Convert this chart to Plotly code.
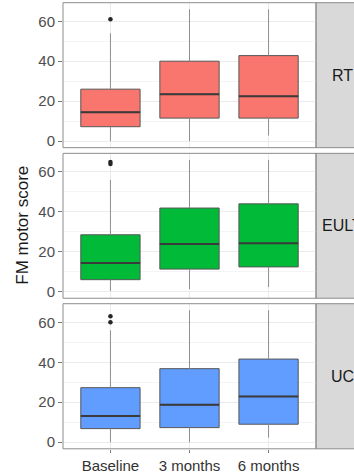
import plotly.graph_objects as go

# Fugl-Meyer motor scores by group and time point (box statistics)
groups = ["RT", "EULT", "UC"]
timepoints = ["Baseline", "3 months", "6 months"]
group_colors = ["#F8766D", "#00BA38", "#619CFF"]

rt_lower = [0, 0, 2.8]
rt_q1 = [7.2, 11.5, 11.5]
rt_median = [14.5, 23.5, 22.4]
rt_q3 = [26, 40, 42.8]
rt_upper = [54, 66, 66]
rt_outliers = [61]

eult_lower = [0.3, 1.3, 2.3]
eult_q1 = [6, 11.3, 12.4]
eult_median = [14.4, 23.9, 24.2]
eult_q3 = [28.5, 41.9, 44]
eult_upper = [56, 66, 66]
eult_outliers = [64, 65]

uc_lower = [0, 0, 2.3]
uc_q1 = [6.8, 7.3, 9]
uc_median = [13.1, 18.7, 22.9]
uc_q3 = [27.3, 36.8, 41.6]
uc_upper = [56, 66, 66]
uc_outliers = [60, 63]

stats = [
    (rt_lower, rt_q1, rt_median, rt_q3, rt_upper, rt_outliers),
    (eult_lower, eult_q1, eult_median, eult_q3, eult_upper, eult_outliers),
    (uc_lower, uc_q1, uc_median, uc_q3, uc_upper, uc_outliers),
]

W, H = 354, 476
x_pos = [1, 2, 3]
box_w = 0.75
# panel pixel extents (top, bottom) and plot area horizontal extent
panel_px = [(2.7, 148.3), (154, 299.5), (305, 450.7)]
px_left, px_right = 63, 316
strip_text_center = 342

fig = go.Figure()

for i, (lo, q1, med, q3, hi, outl) in enumerate(stats):
    xa = "x" if i == 0 else f"x{i+1}"
    ya = "y" if i == 0 else f"y{i+1}"
    # whiskers
    wx, wy = [], []
    for k, xp in enumerate(x_pos):
        wx += [xp, xp, None, xp, xp, None]
        wy += [lo[k], q1[k], None, q3[k], hi[k], None]
    fig.add_trace(go.Scatter(x=wx, y=wy, mode="lines", xaxis=xa, yaxis=ya,
                             line=dict(color="#8f8f8f", width=1),
                             hoverinfo="skip", showlegend=False))
    # boxes
    fig.add_trace(go.Box(x=x_pos, q1=q1, median=med, q3=q3,
                         lowerfence=q1, upperfence=q3,
                         width=box_w, whiskerwidth=0,
                         fillcolor=group_colors[i],
                         line=dict(color="#575757", width=1),
                         xaxis=xa, yaxis=ya, showlegend=False,
                         boxpoints=False))
    # thicker median bars
    mx, my = [], []
    for k, xp in enumerate(x_pos):
        mx += [xp - box_w / 2, xp + box_w / 2, None]
        my += [med[k], med[k], None]
    fig.add_trace(go.Scatter(x=mx, y=my, mode="lines", xaxis=xa, yaxis=ya,
                             line=dict(color="#3a3a3a", width=2),
                             hoverinfo="skip", showlegend=False))
    # outliers (baseline)
    fig.add_trace(go.Scatter(x=[x_pos[0]] * len(outl), y=outl, mode="markers",
                             xaxis=xa, yaxis=ya,
                             marker=dict(color="#262626", size=4.5),
                             hoverinfo="skip", showlegend=False))

layout = dict(
    width=W, height=H,
    margin=dict(l=0, r=0, t=0, b=0),
    paper_bgcolor="white", plot_bgcolor="white",
    showlegend=False,
    font=dict(family="Liberation Sans, Arial, sans-serif", color="#4d4d4d"),
)

shapes = []
annotations = []
for i, (top, bot) in enumerate(panel_px):
    dom = [1 - bot / H, 1 - top / H]
    xkey = "xaxis" if i == 0 else f"xaxis{i+1}"
    ykey = "yaxis" if i == 0 else f"yaxis{i+1}"
    anchor_y = "y" if i == 0 else f"y{i+1}"
    anchor_x = "x" if i == 0 else f"x{i+1}"
    last = i == len(panel_px) - 1
    layout[xkey] = dict(
        domain=[px_left / W, px_right / W], anchor=anchor_y,
        range=[0.4, 3.6], tickvals=x_pos, ticktext=timepoints,
        showticklabels=last, ticks="outside" if last else "",
        ticklen=3, tickcolor="#7a7a7a",
        tickfont=dict(size=15, color="#333333"),
        showgrid=True, gridcolor="#ebebeb", gridwidth=1,
        zeroline=False, showline=False, fixedrange=True,
    )
    layout[ykey] = dict(
        domain=dom, anchor=anchor_x,
        range=[-3.3, 69.3], tickvals=[0, 20, 40, 60],
        ticks="outside", ticklen=4, tickcolor="#7a7a7a",
        tickfont=dict(size=15, color="#4d4d4d"),
        showgrid=True, gridcolor="#ebebeb", gridwidth=1,
        minor=dict(tickvals=[10, 30, 50], showgrid=True,
                   gridcolor="#f4f4f4", gridwidth=1),
        zeroline=False, showline=False, fixedrange=True,
    )
    # panel border
    shapes.append(dict(type="rect", xref="paper", yref="paper",
                       x0=px_left / W, x1=px_right / W, y0=dom[0], y1=dom[1],
                       line=dict(color="#8c8c8c", width=1), layer="above"))
    # facet strip on the right
    shapes.append(dict(type="rect", xref="paper", yref="paper",
                       x0=px_right / W, x1=1.3, y0=dom[0], y1=dom[1],
                       fillcolor="#d9d9d9",
                       line=dict(color="#8c8c8c", width=1), layer="below"))
    annotations.append(dict(text=groups[i], xref="paper", yref="paper",
                            x=strip_text_center / W, y=(dom[0] + dom[1]) / 2,
                            xanchor="center", yanchor="middle", showarrow=False,
                            font=dict(size=16, color="#1a1a1a")))

annotations.append(dict(text="FM motor score", xref="paper", yref="paper",
                        x=23 / W, y=1 - 226.7 / H, textangle=-90,
                        xanchor="center", yanchor="middle", showarrow=False,
                        font=dict(size=17, color="#1a1a1a")))

layout["shapes"] = shapes
layout["annotations"] = annotations
fig.update_layout(**layout)

fig.write_html("out.html", config={"displayModeBar": False})
